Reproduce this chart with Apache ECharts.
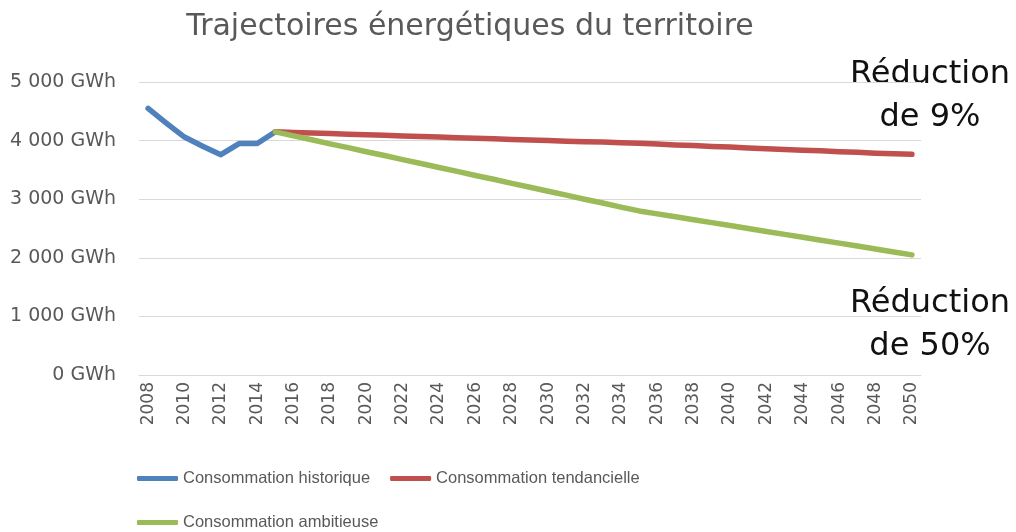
<!DOCTYPE html>
<html><head><meta charset="utf-8">
<script src="https://cdn.jsdelivr.net/npm/echarts@6/dist/echarts.min.js"></script>
<style>html,body{margin:0;padding:0;background:#fff}#c{width:1016px;height:532px}</style>
</head><body><div id="c"></div>
<script>
const years = [];
for (let y = 2008; y <= 2050; y++) years.push(String(y));
const historique = [4550, 4300, 4060, 3905, 3760, 3950, 3950, 4150];
const tendancielle = [4150, 4140, 4130, 4120, 4110, 4100, 4090, 4080, 4070, 4060, 4050, 4040, 4030, 4020, 4010, 4000, 3990, 3980, 3975, 3965, 3955, 3940, 3925, 3915, 3900, 3890, 3875, 3860, 3850, 3835, 3825, 3810, 3800, 3785, 3775, 3765];
const ambitieuse = [4150, 4080, 4015, 3945, 3880, 3810, 3745, 3675, 3610, 3540, 3475, 3405, 3340, 3270, 3205, 3135, 3070, 3000, 2935, 2865, 2800, 2750, 2700, 2650, 2600, 2550, 2500, 2450, 2400, 2350, 2300, 2250, 2200, 2150, 2100, 2050];
const seriesNames = ['Consommation historique', 'Consommation tendancielle', 'Consommation ambitieuse'];
const yTicks = [0, 1000, 2000, 3000, 4000, 5000];
const title = 'Trajectoires énergétiques du territoire';
const note1 = ['Réduction', 'de 9%'];
const note2 = ['Réduction', 'de 50%'];

const pad = (arr, start) => years.map((y, i) => (i - start >= 0 && i - start < arr.length) ? arr[i - start] : null);
const startFuture = years.indexOf('2015');

const chart = echarts.init(document.getElementById('c'));
const font = 'DejaVu Sans';
const legFont = 'Liberation Sans';
const noteText = (t, x, y) => ({ type: 'text', x: x, y: y, silent: true,
  style: { text: t, fontFamily: font, fontSize: 32, fill: '#111', align: 'center', verticalAlign: 'middle', textAlign: 'center', textVerticalAlign: 'middle' } });
chart.setOption({
  animation: false,
  title: { text: title, left: 470, top: 12, padding: 0, textAlign: 'center',
    textStyle: { fontFamily: font, fontSize: 30, fontWeight: 'normal', color: '#595959' } },
  grid: { left: 139, right: 95, top: 82, bottom: 157, containLabel: false },
  legend: [
    { data: [seriesNames[0], seriesNames[1]], left: 137, top: 470, padding: 0, itemWidth: 41, itemHeight: 5, itemGap: 20,
      icon: 'roundRect', textStyle: { fontFamily: legFont, fontSize: 16.5, color: '#595959' } },
    { data: [seriesNames[2]], left: 137, top: 514, padding: 0, itemWidth: 41, itemHeight: 5,
      icon: 'roundRect', textStyle: { fontFamily: legFont, fontSize: 16.5, color: '#595959' } }
  ],
  xAxis: {
    type: 'category', data: years, boundaryGap: true,
    axisLine: { lineStyle: { color: '#d9d9d9', width: 1 } },
    axisTick: { show: false },
    axisLabel: { interval: 1, rotate: 90, fontFamily: font, fontSize: 17, color: '#595959', margin: 7 }
  },
  yAxis: {
    type: 'value', min: yTicks[0], max: yTicks[yTicks.length - 1], interval: 1000,
    axisLine: { show: false }, axisTick: { show: false },
    splitLine: { lineStyle: { color: '#d9d9d9', width: 1 } },
    axisLabel: { fontFamily: font, fontSize: 19, color: '#595959', margin: 23,
      formatter: v => (v >= 1000 ? Math.floor(v / 1000) + ' ' + String(v % 1000).padStart(3, '0') : String(v)) + ' GWh' }
  },
  series: [
    { name: seriesNames[0], type: 'line', data: pad(historique, 0), showSymbol: false, symbol: 'none',
      lineStyle: { width: 5.5, color: '#4F81BD', cap: 'round', join: 'round' }, itemStyle: { color: '#4F81BD' } },
    { name: seriesNames[1], type: 'line', data: pad(tendancielle, startFuture), showSymbol: false, symbol: 'none',
      lineStyle: { width: 5.5, color: '#C0504D', cap: 'round', join: 'round' }, itemStyle: { color: '#C0504D' } },
    { name: seriesNames[2], type: 'line', data: pad(ambitieuse, startFuture), showSymbol: false, symbol: 'none',
      lineStyle: { width: 5.5, color: '#9BBB59', cap: 'round', join: 'round' }, itemStyle: { color: '#9BBB59' } }
  ],
  graphic: [
    noteText(note1[0], 930, 75), noteText(note1[1], 930, 118),
    noteText(note2[0], 930, 304), noteText(note2[1], 930, 347)
  ]
});
</script></body></html>
